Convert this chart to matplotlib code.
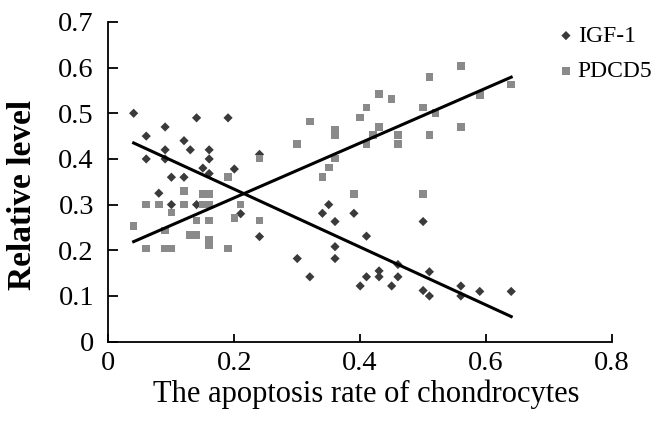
import numpy as np
import matplotlib
matplotlib.use("Agg")
import matplotlib.pyplot as plt

# ==========================================
# DATA
# ==========================================

# IGF-1 scatter (apoptosis rate, relative level)
igf_x = [0.04, 0.06, 0.06, 0.09, 0.09, 0.09, 0.10, 0.12, 0.12, 0.13, 0.14,
         0.08, 0.10, 0.14, 0.16, 0.16, 0.15, 0.16, 0.19, 0.20, 0.21, 0.24,
         0.24, 0.30, 0.32, 0.34, 0.35, 0.36, 0.36, 0.36, 0.39, 0.40, 0.41,
         0.41, 0.43, 0.43, 0.45, 0.46, 0.46, 0.50, 0.50, 0.51, 0.51, 0.56,
         0.56, 0.59, 0.64]
igf_y = [0.50, 0.45, 0.40, 0.47, 0.42, 0.40, 0.36, 0.36, 0.44, 0.42, 0.49,
         0.325, 0.30, 0.30, 0.42, 0.40, 0.38, 0.368, 0.49, 0.378, 0.28, 0.41,
         0.23, 0.182, 0.142, 0.281, 0.30, 0.263, 0.208, 0.182, 0.281, 0.122, 0.231,
         0.142, 0.155, 0.142, 0.122, 0.169, 0.142, 0.263, 0.112, 0.153, 0.10, 0.122,
         0.10, 0.11, 0.11]

# PDCD5 scatter
pdcd_x = [0.04, 0.06, 0.06, 0.08, 0.09, 0.09, 0.10, 0.10, 0.12, 0.12, 0.13,
          0.14, 0.14, 0.15, 0.16, 0.15, 0.16, 0.16, 0.16, 0.16, 0.19, 0.19,
          0.20, 0.21, 0.24, 0.24, 0.30, 0.32, 0.34, 0.35, 0.36, 0.36, 0.36,
          0.39, 0.40, 0.41, 0.41, 0.42, 0.43, 0.43, 0.45, 0.46, 0.46, 0.50,
          0.50, 0.51, 0.51, 0.52, 0.56, 0.56, 0.59, 0.64]
pdcd_y = [0.253, 0.30, 0.204, 0.30, 0.243, 0.204, 0.204, 0.283, 0.33, 0.30, 0.233,
          0.233, 0.265, 0.323, 0.323, 0.30, 0.30, 0.265, 0.222, 0.211, 0.361, 0.204,
          0.271, 0.30, 0.265, 0.401, 0.433, 0.482, 0.361, 0.381, 0.401, 0.463, 0.452,
          0.323, 0.491, 0.513, 0.433, 0.452, 0.542, 0.47, 0.531, 0.452, 0.433, 0.513,
          0.323, 0.58, 0.452, 0.50, 0.603, 0.47, 0.54, 0.563]

# Trend lines (endpoints)
trend_x = [0.04, 0.64]
igf_trend = [0.435, 0.055]
pdcd_trend = [0.219, 0.579]

x_ticks = [0, 0.2, 0.4, 0.6, 0.8]
x_labels = ['0', '0.2', '0.4', '0.6', '0.8']
y_ticks = [0, 0.1, 0.2, 0.3, 0.4, 0.5, 0.6, 0.7]
y_labels = ['0', '0.1', '0.2', '0.3', '0.4', '0.5', '0.6', '0.7']

# ==========================================
# PLOT
# ==========================================

plt.rcParams['font.family'] = ['Liberation Serif', 'DejaVu Serif']

fig = plt.figure(figsize=(6.68, 4.21), dpi=100)
ax = fig.add_axes([0.1624, 0.1884, 0.916 - 0.1624, 0.948 - 0.1884])

ax.scatter(igf_x, igf_y, marker='D', s=22, color='#3a3a3a', edgecolors='none',
           label='IGF-1', zorder=3)
ax.scatter(pdcd_x, pdcd_y, marker='s', s=30, color='#8a8a8a', edgecolors='none',
           label='PDCD5', zorder=3)

ax.plot(trend_x, igf_trend, color='black', linewidth=2.2, zorder=4)
ax.plot(trend_x, pdcd_trend, color='black', linewidth=2.2, zorder=4)

ax.set_xlim(0, 0.8)
ax.set_ylim(0, 0.7)
ax.set_xticks(x_ticks)
ax.set_yticks(y_ticks)
ax.set_xticklabels(x_labels)
ax.set_yticklabels(y_labels)

for side in ['top', 'right']:
    ax.spines[side].set_visible(False)
for side in ['left', 'bottom']:
    ax.spines[side].set_linewidth(1.3)

ax.tick_params(axis='both', direction='in', width=1.3, labelsize=20.5)
ax.tick_params(axis='y', length=7, pad=10.5)
ax.tick_params(axis='x', length=6, pad=7)

ax.set_xlabel('The apoptosis rate of chondrocytes', fontsize=22)
ax.xaxis.set_label_coords(0.512, -0.118)
ax.set_ylabel('Relative level', fontsize=24, fontweight='bold')
ax.yaxis.set_label_coords(-0.14, 0.459)

ax.legend(loc='upper left', bbox_to_anchor=(556.5 / 668, 0.94),
          bbox_transform=fig.transFigure, frameon=False,
          fontsize=17, handletextpad=0.1, handlelength=0.8,
          labelspacing=0.6, borderaxespad=0, borderpad=0)

fig.savefig('out.png', dpi=100)
plt.close()
